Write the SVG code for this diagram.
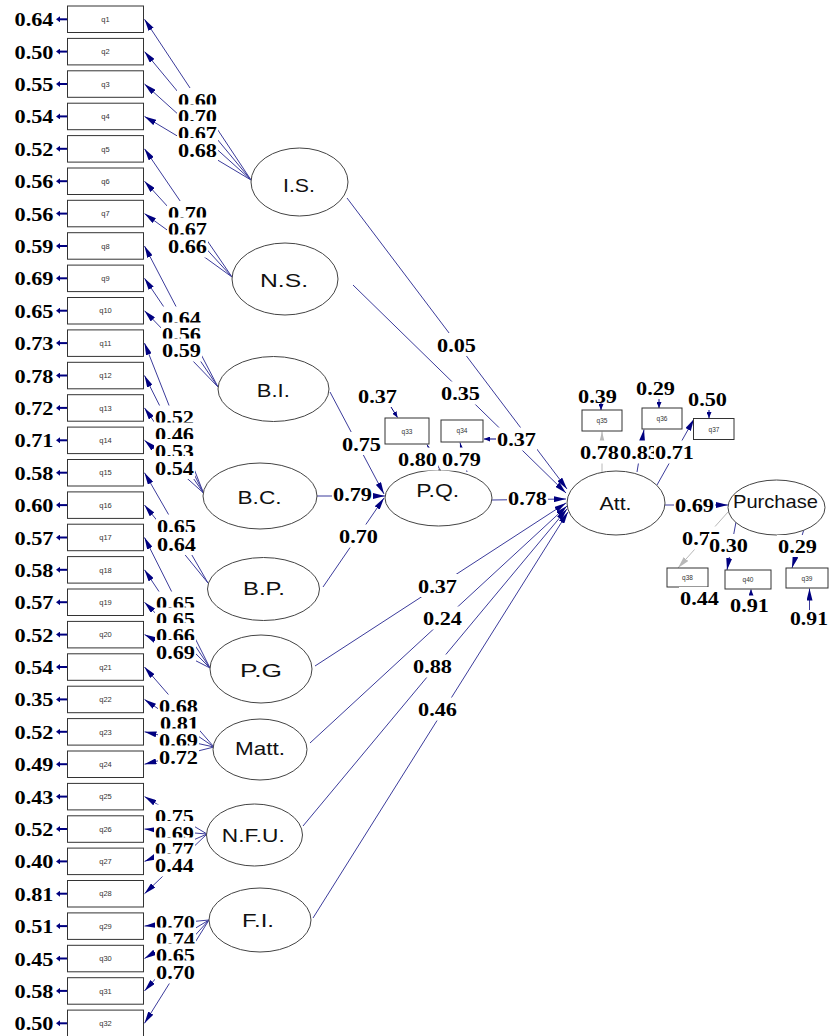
<svg xmlns="http://www.w3.org/2000/svg" width="829" height="1036" viewBox="0 0 829 1036">
<style>
.box{fill:#fff;stroke:#333;stroke-width:1}
.ell{fill:#fff;stroke:#444;stroke-width:1}
.ql{font-family:"Liberation Sans",Arial,sans-serif;font-size:7.5px;fill:#333;text-anchor:middle}
.qs{font-family:"Liberation Sans",Arial,sans-serif;font-size:6.5px;fill:#333;text-anchor:middle}
.lat{font-family:"Liberation Sans",Arial,sans-serif;font-size:19px;fill:#111;text-anchor:middle}
.num{font-family:"Liberation Serif","Times New Roman",serif;font-weight:bold;font-size:19.5px;fill:#000}
.end{text-anchor:end}
.bg{fill:#fff}
.c{stroke:#3b3b9b;stroke-width:1;fill:none;marker-end:url(#ah)}
.g{stroke:#b8b8b8;stroke-width:1;fill:none;marker-end:url(#ahg)}
.e{stroke:#000080;stroke-width:2;fill:none;marker-end:url(#ahs)}
.t{stroke:#000080;stroke-width:1;fill:none;marker-end:url(#aht)}
</style>
<defs>
<marker id="ah" viewBox="0 0 12 6" refX="12" refY="3" markerWidth="12" markerHeight="6" markerUnits="userSpaceOnUse" orient="auto"><path d="M0,0L12,3L0,6z" fill="#000080"/></marker>
<marker id="ahg" viewBox="0 0 12 6" refX="12" refY="3" markerWidth="12" markerHeight="6" markerUnits="userSpaceOnUse" orient="auto"><path d="M0,0L12,3L0,6z" fill="#b8b8b8"/></marker>
<marker id="ahs" viewBox="0 0 4 6" refX="1" refY="3" markerWidth="4" markerHeight="6" markerUnits="userSpaceOnUse" orient="auto"><path d="M0,0L4,3L0,6z" fill="#000080"/></marker>
<marker id="aht" viewBox="0 0 6 5" refX="6" refY="2.5" markerWidth="6" markerHeight="5" markerUnits="userSpaceOnUse" orient="auto"><path d="M0,0L6,2.5L0,5z" fill="#000080"/></marker>
</defs>
<rect width="829" height="1036" fill="#fff"/>

<g id="connectors">
<!-- error arrows left -->
<path class="e" d="M67,19.3H59"/>
<path class="e" d="M67,51.6H59"/>
<path class="e" d="M67,84H59"/>
<path class="e" d="M67,116.4H59"/>
<path class="e" d="M67,148.8H59"/>
<path class="e" d="M67,181.2H59"/>
<path class="e" d="M67,213.6H59"/>
<path class="e" d="M67,246H59"/>
<path class="e" d="M67,278.3H59"/>
<path class="e" d="M67,310.7H59"/>
<path class="e" d="M67,343.1H59"/>
<path class="e" d="M67,375.5H59"/>
<path class="e" d="M67,407.9H59"/>
<path class="e" d="M67,440.3H59"/>
<path class="e" d="M67,472.7H59"/>
<path class="e" d="M67,505.1H59"/>
<path class="e" d="M67,537.5H59"/>
<path class="e" d="M67,569.8H59"/>
<path class="e" d="M67,602.2H59"/>
<path class="e" d="M67,634.6H59"/>
<path class="e" d="M67,667H59"/>
<path class="e" d="M67,699.4H59"/>
<path class="e" d="M67,731.8H59"/>
<path class="e" d="M67,764.2H59"/>
<path class="e" d="M67,796.6H59"/>
<path class="e" d="M67,829H59"/>
<path class="e" d="M67,861.4H59"/>
<path class="e" d="M67,893.7H59"/>
<path class="e" d="M67,926.1H59"/>
<path class="e" d="M67,958.5H59"/>
<path class="e" d="M67,990.9H59"/>
<path class="e" d="M67,1023.3H59"/>
<!-- loadings -->
<path class="c" d="M251,180L144.5,19.3"/>
<path class="c" d="M251,180L144.5,51.6"/>
<path class="c" d="M251,180L144.5,84"/>
<path class="c" d="M251,180L144.5,116.4"/>
<path class="c" d="M232,277L144.5,148.8"/>
<path class="c" d="M232,277L144.5,181.2"/>
<path class="c" d="M232,277L144.5,213.6"/>
<path class="c" d="M218,387L144.5,246"/>
<path class="c" d="M218,387L144.5,278.3"/>
<path class="c" d="M218,387L144.5,310.7"/>
<path class="c" d="M203.5,493L144.5,343.1"/>
<path class="c" d="M203.5,493L144.5,375.5"/>
<path class="c" d="M203.5,493L144.5,407.9"/>
<path class="c" d="M203.5,493L144.5,440.3"/>
<path class="c" d="M208,583L144.5,472.7"/>
<path class="c" d="M208,583L144.5,505.1"/>
<path class="c" d="M210,668L144.5,537.5"/>
<path class="c" d="M210,668L144.5,569.8"/>
<path class="c" d="M210,668L144.5,602.2"/>
<path class="c" d="M210,668L144.5,634.6"/>
<path class="c" d="M214,747L144.5,667"/>
<path class="c" d="M214,747L144.5,699.4"/>
<path class="c" d="M214,747L144.5,731.8"/>
<path class="c" d="M214,747L144.5,764.2"/>
<path class="c" d="M207,834L144.5,796.6"/>
<path class="c" d="M207,834L144.5,829"/>
<path class="c" d="M207,834L144.5,861.4"/>
<path class="c" d="M207,834L144.5,893.7"/>
<path class="c" d="M209,920L144.5,926.1"/>
<path class="c" d="M209,920L144.5,958.5"/>
<path class="c" d="M209,920L144.5,990.9"/>
<path class="c" d="M209,920L144.5,1023.3"/>
<!-- structural -->
<path class="c" d="M347,198L567,489"/>
<path class="c" d="M353,285L566,493"/>
<path class="c" d="M330,392L384,494"/>
<path class="c" d="M317,496L385,496"/>
<path class="c" d="M323,587L384,498"/>
<path class="c" d="M492,500L566,499"/>
<path class="c" d="M315,666L566,503"/>
<path class="c" d="M310,743L567,506"/>
<path class="c" d="M303,826L567,509"/>
<path class="c" d="M313,918L568,512"/>
<!-- P.Q. indicators -->
<path class="c" d="M440,470L427,444.5"/>
<path class="c" d="M467,472L460,442.5"/>
<path class="t" d="M391,407L397.5,417.5"/>
<path class="t" d="M496,439H484"/>
<!-- Att indicators -->
<path class="g" d="M602,472L602,431.5"/>
<path class="c" d="M637,472L644,429.5"/>
<path class="c" d="M657,485L694,419"/>
<path class="t" d="M601,403V410"/>
<path class="t" d="M659,399V408"/>
<path class="t" d="M709,410V418"/>
<!-- Att -> Purchase -->
<path class="c" d="M665,505L728,505"/>
<!-- Purchase indicators -->
<path class="g" d="M728,512L678,568"/>
<path class="c" d="M736,522L727,570"/>
<path class="c" d="M805,526L792,568"/>
<path class="t" d="M751,595V589.5"/>
<path class="c" d="M809.5,610V588.5"/>
</g>

<g id="nodes">
<g id="q1"><rect class="box" x="67.5" y="6" width="76" height="26.5"/><text class="ql" x="105.5" y="22">q1</text></g>
<g id="q2"><rect class="box" x="67.5" y="38.4" width="76" height="26.5"/><text class="ql" x="105.5" y="54.3">q2</text></g>
<g id="q3"><rect class="box" x="67.5" y="70.8" width="76" height="26.5"/><text class="ql" x="105.5" y="86.7">q3</text></g>
<g id="q4"><rect class="box" x="67.5" y="103.2" width="76" height="26.5"/><text class="ql" x="105.5" y="119.1">q4</text></g>
<g id="q5"><rect class="box" x="67.5" y="135.6" width="76" height="26.5"/><text class="ql" x="105.5" y="151.5">q5</text></g>
<g id="q6"><rect class="box" x="67.5" y="168" width="76" height="26.5"/><text class="ql" x="105.5" y="183.9">q6</text></g>
<g id="q7"><rect class="box" x="67.5" y="200.3" width="76" height="26.5"/><text class="ql" x="105.5" y="216.3">q7</text></g>
<g id="q8"><rect class="box" x="67.5" y="232.7" width="76" height="26.5"/><text class="ql" x="105.5" y="248.7">q8</text></g>
<g id="q9"><rect class="box" x="67.5" y="265.1" width="76" height="26.5"/><text class="ql" x="105.5" y="281">q9</text></g>
<g id="q10"><rect class="box" x="67.5" y="297.5" width="76" height="26.5"/><text class="ql" x="105.5" y="313.4">q10</text></g>
<g id="q11"><rect class="box" x="67.5" y="329.9" width="76" height="26.5"/><text class="ql" x="105.5" y="345.8">q11</text></g>
<g id="q12"><rect class="box" x="67.5" y="362.3" width="76" height="26.5"/><text class="ql" x="105.5" y="378.2">q12</text></g>
<g id="q13"><rect class="box" x="67.5" y="394.7" width="76" height="26.5"/><text class="ql" x="105.5" y="410.6">q13</text></g>
<g id="q14"><rect class="box" x="67.5" y="427.1" width="76" height="26.5"/><text class="ql" x="105.5" y="443">q14</text></g>
<g id="q15"><rect class="box" x="67.5" y="459.5" width="76" height="26.5"/><text class="ql" x="105.5" y="475.4">q15</text></g>
<g id="q16"><rect class="box" x="67.5" y="491.9" width="76" height="26.5"/><text class="ql" x="105.5" y="507.8">q16</text></g>
<g id="q17"><rect class="box" x="67.5" y="524.2" width="76" height="26.5"/><text class="ql" x="105.5" y="540.2">q17</text></g>
<g id="q18"><rect class="box" x="67.5" y="556.6" width="76" height="26.5"/><text class="ql" x="105.5" y="572.5">q18</text></g>
<g id="q19"><rect class="box" x="67.5" y="589" width="76" height="26.5"/><text class="ql" x="105.5" y="604.9">q19</text></g>
<g id="q20"><rect class="box" x="67.5" y="621.4" width="76" height="26.5"/><text class="ql" x="105.5" y="637.3">q20</text></g>
<g id="q21"><rect class="box" x="67.5" y="653.8" width="76" height="26.5"/><text class="ql" x="105.5" y="669.7">q21</text></g>
<g id="q22"><rect class="box" x="67.5" y="686.2" width="76" height="26.5"/><text class="ql" x="105.5" y="702.1">q22</text></g>
<g id="q23"><rect class="box" x="67.5" y="718.6" width="76" height="26.5"/><text class="ql" x="105.5" y="734.5">q23</text></g>
<g id="q24"><rect class="box" x="67.5" y="751" width="76" height="26.5"/><text class="ql" x="105.5" y="766.9">q24</text></g>
<g id="q25"><rect class="box" x="67.5" y="783.4" width="76" height="26.5"/><text class="ql" x="105.5" y="799.3">q25</text></g>
<g id="q26"><rect class="box" x="67.5" y="815.8" width="76" height="26.5"/><text class="ql" x="105.5" y="831.7">q26</text></g>
<g id="q27"><rect class="box" x="67.5" y="848.1" width="76" height="26.5"/><text class="ql" x="105.5" y="864.1">q27</text></g>
<g id="q28"><rect class="box" x="67.5" y="880.5" width="76" height="26.5"/><text class="ql" x="105.5" y="896.4">q28</text></g>
<g id="q29"><rect class="box" x="67.5" y="912.9" width="76" height="26.5"/><text class="ql" x="105.5" y="928.8">q29</text></g>
<g id="q30"><rect class="box" x="67.5" y="945.3" width="76" height="26.5"/><text class="ql" x="105.5" y="961.2">q30</text></g>
<g id="q31"><rect class="box" x="67.5" y="977.7" width="76" height="26.5"/><text class="ql" x="105.5" y="993.6">q31</text></g>
<g id="q32"><rect class="box" x="67.5" y="1010.1" width="76" height="26.5"/><text class="ql" x="105.5" y="1026">q32</text></g>

<g id="q33"><rect class="box" x="385" y="418" width="44" height="26"/><text class="qs" x="407" y="433.5">q33</text></g>
<g id="q34"><rect class="box" x="441" y="420" width="42" height="22"/><text class="qs" x="462" y="433">q34</text></g>
<g id="q35"><rect class="box" x="582" y="410" width="40" height="21"/><text class="qs" x="602" y="422.5">q35</text></g>
<g id="q36"><rect class="box" x="642" y="408" width="40" height="21"/><text class="qs" x="662" y="420.5">q36</text></g>
<g id="q37"><rect class="box" x="693.5" y="418.5" width="40.5" height="21"/><text class="qs" x="714" y="431.5">q37</text></g>
<g id="q38"><rect class="box" x="667" y="568" width="41" height="19"/><text class="qs" x="687.5" y="580">q38</text></g>
<g id="q40"><rect class="box" x="725" y="570" width="46" height="19"/><text class="qs" x="748" y="582">q40</text></g>
<g id="q39"><rect class="box" x="786" y="568" width="42" height="20"/><text class="qs" x="807" y="581">q39</text></g>

<g id="IS"><ellipse class="ell" cx="299.5" cy="182" rx="48.5" ry="34"/><text class="lat" x="299" y="191.5" textLength="32" lengthAdjust="spacingAndGlyphs">I.S.</text></g>
<g id="NS"><ellipse class="ell" cx="285" cy="279" rx="53" ry="36"/><text class="lat" x="284" y="286.5" textLength="48" lengthAdjust="spacingAndGlyphs">N.S.</text></g>
<g id="BI"><ellipse class="ell" cx="273.5" cy="389" rx="55.5" ry="32.5"/><text class="lat" x="273.3" y="396.5" textLength="33" lengthAdjust="spacingAndGlyphs">B.I.</text></g>
<g id="BC"><ellipse class="ell" cx="260" cy="496" rx="57" ry="33"/><text class="lat" x="259.5" y="504" textLength="44" lengthAdjust="spacingAndGlyphs">B.C.</text></g>
<g id="BP"><ellipse class="ell" cx="263.5" cy="589" rx="56" ry="31.5"/><text class="lat" x="264" y="595" textLength="42" lengthAdjust="spacingAndGlyphs">B.P.</text></g>
<g id="PG"><ellipse class="ell" cx="261" cy="669" rx="51" ry="34"/><text class="lat" x="261" y="676.5" textLength="42" lengthAdjust="spacingAndGlyphs">P.G</text></g>
<g id="Matt"><ellipse class="ell" cx="260" cy="749.5" rx="47" ry="30.5"/><text class="lat" x="260" y="755" textLength="50" lengthAdjust="spacingAndGlyphs">Matt.</text></g>
<g id="NFU"><ellipse class="ell" cx="254.5" cy="835" rx="48" ry="31"/><text class="lat" x="253.3" y="841.5" textLength="63" lengthAdjust="spacingAndGlyphs">N.F.U.</text></g>
<g id="FI"><ellipse class="ell" cx="260" cy="920" rx="51" ry="32"/><text class="lat" x="258" y="927.3" textLength="32" lengthAdjust="spacingAndGlyphs">F.I.</text></g>
<g id="PQ"><ellipse class="ell" cx="438.5" cy="498" rx="53.5" ry="28"/><text class="lat" x="437.7" y="496.5" textLength="43" lengthAdjust="spacingAndGlyphs">P.Q.</text></g>
<g id="Att"><ellipse class="ell" cx="616" cy="503" rx="49" ry="32"/><text class="lat" x="615.5" y="510" textLength="32" lengthAdjust="spacingAndGlyphs">Att.</text></g>
<g id="Purchase"><ellipse class="ell" cx="776.5" cy="507.5" rx="48.5" ry="27.5"/><text class="lat" x="775.5" y="508.3" textLength="85" lengthAdjust="spacingAndGlyphs">Purchase</text></g>
</g>

<g id="labels">
<g class="num end">
<text x="53.5" y="26.3" textLength="39" lengthAdjust="spacingAndGlyphs">0.64</text>
<text x="53.5" y="58.6" textLength="39" lengthAdjust="spacingAndGlyphs">0.50</text>
<text x="53.5" y="91" textLength="39" lengthAdjust="spacingAndGlyphs">0.55</text>
<text x="53.5" y="123.4" textLength="39" lengthAdjust="spacingAndGlyphs">0.54</text>
<text x="53.5" y="155.8" textLength="39" lengthAdjust="spacingAndGlyphs">0.52</text>
<text x="53.5" y="188.2" textLength="39" lengthAdjust="spacingAndGlyphs">0.56</text>
<text x="53.5" y="220.6" textLength="39" lengthAdjust="spacingAndGlyphs">0.56</text>
<text x="53.5" y="253" textLength="39" lengthAdjust="spacingAndGlyphs">0.59</text>
<text x="53.5" y="285.3" textLength="39" lengthAdjust="spacingAndGlyphs">0.69</text>
<text x="53.5" y="317.7" textLength="39" lengthAdjust="spacingAndGlyphs">0.65</text>
<text x="53.5" y="350.1" textLength="39" lengthAdjust="spacingAndGlyphs">0.73</text>
<text x="53.5" y="382.5" textLength="39" lengthAdjust="spacingAndGlyphs">0.78</text>
<text x="53.5" y="414.9" textLength="39" lengthAdjust="spacingAndGlyphs">0.72</text>
<text x="53.5" y="447.3" textLength="39" lengthAdjust="spacingAndGlyphs">0.71</text>
<text x="53.5" y="479.7" textLength="39" lengthAdjust="spacingAndGlyphs">0.58</text>
<text x="53.5" y="512.1" textLength="39" lengthAdjust="spacingAndGlyphs">0.60</text>
<text x="53.5" y="544.5" textLength="39" lengthAdjust="spacingAndGlyphs">0.57</text>
<text x="53.5" y="576.8" textLength="39" lengthAdjust="spacingAndGlyphs">0.58</text>
<text x="53.5" y="609.2" textLength="39" lengthAdjust="spacingAndGlyphs">0.57</text>
<text x="53.5" y="641.6" textLength="39" lengthAdjust="spacingAndGlyphs">0.52</text>
<text x="53.5" y="674" textLength="39" lengthAdjust="spacingAndGlyphs">0.54</text>
<text x="53.5" y="706.4" textLength="39" lengthAdjust="spacingAndGlyphs">0.35</text>
<text x="53.5" y="738.8" textLength="39" lengthAdjust="spacingAndGlyphs">0.52</text>
<text x="53.5" y="771.2" textLength="39" lengthAdjust="spacingAndGlyphs">0.49</text>
<text x="53.5" y="803.6" textLength="39" lengthAdjust="spacingAndGlyphs">0.43</text>
<text x="53.5" y="836" textLength="39" lengthAdjust="spacingAndGlyphs">0.52</text>
<text x="53.5" y="868.4" textLength="39" lengthAdjust="spacingAndGlyphs">0.40</text>
<text x="53.5" y="900.7" textLength="39" lengthAdjust="spacingAndGlyphs">0.81</text>
<text x="53.5" y="933.1" textLength="39" lengthAdjust="spacingAndGlyphs">0.51</text>
<text x="53.5" y="965.5" textLength="39" lengthAdjust="spacingAndGlyphs">0.45</text>
<text x="53.5" y="997.9" textLength="39" lengthAdjust="spacingAndGlyphs">0.58</text>
<text x="53.5" y="1030.3" textLength="39" lengthAdjust="spacingAndGlyphs">0.50</text>
</g>
<g class="num">
<!-- I.S. -->
<rect class="bg" x="177" y="88" width="41" height="23"/><text x="178" y="106.5" textLength="39" lengthAdjust="spacingAndGlyphs">0.60</text>
<rect class="bg" x="177" y="104.5" width="41" height="23"/><text x="178" y="123" textLength="39" lengthAdjust="spacingAndGlyphs">0.70</text>
<rect class="bg" x="177" y="121" width="41" height="23"/><text x="178" y="139.5" textLength="39" lengthAdjust="spacingAndGlyphs">0.67</text>
<rect class="bg" x="177" y="138" width="41" height="23"/><text x="178" y="156.5" textLength="39" lengthAdjust="spacingAndGlyphs">0.68</text>
<!-- N.S. -->
<rect class="bg" x="167" y="201" width="41" height="23"/><text x="168" y="219.5" textLength="39" lengthAdjust="spacingAndGlyphs">0.70</text>
<rect class="bg" x="167" y="217.5" width="41" height="23"/><text x="168" y="236" textLength="39" lengthAdjust="spacingAndGlyphs">0.67</text>
<rect class="bg" x="167" y="234.5" width="41" height="23"/><text x="168" y="253" textLength="39" lengthAdjust="spacingAndGlyphs">0.66</text>
<!-- B.I. -->
<rect class="bg" x="161" y="306.5" width="41" height="23"/><text x="162" y="325" textLength="39" lengthAdjust="spacingAndGlyphs">0.64</text>
<rect class="bg" x="161" y="322.5" width="41" height="23"/><text x="162" y="341" textLength="39" lengthAdjust="spacingAndGlyphs">0.56</text>
<rect class="bg" x="161" y="338.5" width="41" height="23"/><text x="162" y="357" textLength="39" lengthAdjust="spacingAndGlyphs">0.59</text>
<!-- B.C. -->
<rect class="bg" x="154" y="405.5" width="41" height="23"/><text x="155" y="424" textLength="39" lengthAdjust="spacingAndGlyphs">0.52</text>
<rect class="bg" x="154" y="422.5" width="41" height="23"/><text x="155" y="441" textLength="39" lengthAdjust="spacingAndGlyphs">0.46</text>
<rect class="bg" x="154" y="439" width="41" height="23"/><text x="155" y="457.5" textLength="39" lengthAdjust="spacingAndGlyphs">0.53</text>
<rect class="bg" x="154" y="456" width="41" height="23"/><text x="155" y="474.5" textLength="39" lengthAdjust="spacingAndGlyphs">0.54</text>
<!-- B.P. -->
<rect class="bg" x="156" y="514.5" width="41" height="23"/><text x="157" y="533" textLength="39" lengthAdjust="spacingAndGlyphs">0.65</text>
<rect class="bg" x="156" y="532" width="41" height="23"/><text x="157" y="550.5" textLength="39" lengthAdjust="spacingAndGlyphs">0.64</text>
<!-- P.G -->
<rect class="bg" x="155" y="591.5" width="41" height="23"/><text x="156" y="610" textLength="39" lengthAdjust="spacingAndGlyphs">0.65</text>
<rect class="bg" x="155" y="607.5" width="41" height="23"/><text x="156" y="626" textLength="39" lengthAdjust="spacingAndGlyphs">0.65</text>
<rect class="bg" x="155" y="623" width="41" height="23"/><text x="156" y="641.5" textLength="39" lengthAdjust="spacingAndGlyphs">0.66</text>
<rect class="bg" x="155" y="640" width="41" height="23"/><text x="156" y="658.5" textLength="39" lengthAdjust="spacingAndGlyphs">0.69</text>
<!-- Matt. -->
<rect class="bg" x="158" y="694.5" width="41" height="23"/><text x="159" y="713" textLength="39" lengthAdjust="spacingAndGlyphs">0.68</text>
<rect class="bg" x="159" y="711.5" width="41" height="23"/><text x="160" y="730" textLength="39" lengthAdjust="spacingAndGlyphs">0.81</text>
<rect class="bg" x="158" y="728.5" width="41" height="23"/><text x="159" y="747" textLength="39" lengthAdjust="spacingAndGlyphs">0.69</text>
<rect class="bg" x="158" y="745.5" width="41" height="23"/><text x="159" y="764" textLength="39" lengthAdjust="spacingAndGlyphs">0.72</text>
<!-- N.F.U. -->
<rect class="bg" x="154" y="804.5" width="41" height="23"/><text x="155" y="823" textLength="39" lengthAdjust="spacingAndGlyphs">0.75</text>
<rect class="bg" x="154" y="821" width="41" height="23"/><text x="155" y="839.5" textLength="39" lengthAdjust="spacingAndGlyphs">0.69</text>
<rect class="bg" x="154" y="837.5" width="41" height="23"/><text x="155" y="856" textLength="39" lengthAdjust="spacingAndGlyphs">0.77</text>
<rect class="bg" x="154" y="853.5" width="41" height="23"/><text x="155" y="872" textLength="39" lengthAdjust="spacingAndGlyphs">0.44</text>
<!-- F.I. -->
<rect class="bg" x="155" y="910.5" width="41" height="23"/><text x="156" y="929" textLength="39" lengthAdjust="spacingAndGlyphs">0.70</text>
<rect class="bg" x="155" y="927.5" width="41" height="23"/><text x="156" y="946" textLength="39" lengthAdjust="spacingAndGlyphs">0.74</text>
<rect class="bg" x="155" y="943.5" width="41" height="23"/><text x="156" y="962" textLength="39" lengthAdjust="spacingAndGlyphs">0.65</text>
<rect class="bg" x="155" y="960.5" width="41" height="23"/><text x="156" y="979" textLength="39" lengthAdjust="spacingAndGlyphs">0.70</text>
<!-- structural -->
<rect class="bg" x="436" y="333" width="41" height="23"/><text x="437" y="351.5" textLength="39" lengthAdjust="spacingAndGlyphs">0.05</text>
<rect class="bg" x="440" y="381.5" width="41" height="23"/><text x="441" y="400" textLength="39" lengthAdjust="spacingAndGlyphs">0.35</text>
<rect class="bg" x="341" y="432" width="41" height="23"/><text x="342" y="450.5" textLength="39" lengthAdjust="spacingAndGlyphs">0.75</text>
<rect class="bg" x="332" y="482" width="41" height="23"/><text x="333" y="500.5" textLength="39" lengthAdjust="spacingAndGlyphs">0.79</text>
<rect class="bg" x="338" y="524.5" width="41" height="23"/><text x="339" y="543" textLength="39" lengthAdjust="spacingAndGlyphs">0.70</text>
<text x="358" y="403" textLength="39" lengthAdjust="spacingAndGlyphs">0.37</text>
<rect class="bg" x="397" y="447.5" width="41" height="23"/><text x="398" y="466" textLength="39" lengthAdjust="spacingAndGlyphs">0.80</text>
<rect class="bg" x="441" y="447.5" width="41" height="23"/><text x="442" y="466" textLength="39" lengthAdjust="spacingAndGlyphs">0.79</text>
<rect class="bg" x="496" y="427.5" width="41" height="23"/><text x="497" y="446" textLength="39" lengthAdjust="spacingAndGlyphs">0.37</text>
<rect class="bg" x="507" y="486.5" width="41" height="23"/><text x="508" y="505" textLength="39" lengthAdjust="spacingAndGlyphs">0.78</text>
<rect class="bg" x="417" y="574" width="41" height="23"/><text x="418" y="592.5" textLength="39" lengthAdjust="spacingAndGlyphs">0.37</text>
<rect class="bg" x="422" y="606.5" width="41" height="23"/><text x="423" y="625" textLength="39" lengthAdjust="spacingAndGlyphs">0.24</text>
<rect class="bg" x="412" y="654.5" width="41" height="23"/><text x="413" y="673" textLength="39" lengthAdjust="spacingAndGlyphs">0.88</text>
<rect class="bg" x="417" y="697.5" width="41" height="23"/><text x="418" y="716" textLength="39" lengthAdjust="spacingAndGlyphs">0.46</text>
<text x="578" y="402.5" textLength="39" lengthAdjust="spacingAndGlyphs">0.39</text>
<text x="636" y="395" textLength="39" lengthAdjust="spacingAndGlyphs">0.29</text>
<text x="688" y="406" textLength="39" lengthAdjust="spacingAndGlyphs">0.50</text>
<rect class="bg" x="579" y="440.5" width="41" height="23"/><text x="580" y="459" textLength="39" lengthAdjust="spacingAndGlyphs">0.78</text>
<rect class="bg" x="619" y="440.5" width="41" height="23"/><text x="620" y="459" textLength="39" lengthAdjust="spacingAndGlyphs">0.83</text>
<rect class="bg" x="654" y="440.5" width="41" height="23"/><text x="655" y="459" textLength="39" lengthAdjust="spacingAndGlyphs">0.71</text>
<rect class="bg" x="674" y="493" width="41" height="23"/><text x="675" y="511.5" textLength="39" lengthAdjust="spacingAndGlyphs">0.69</text>
<rect class="bg" x="681" y="526.5" width="41" height="23"/><text x="682" y="545" textLength="39" lengthAdjust="spacingAndGlyphs">0.75</text>
<rect class="bg" x="708" y="534" width="41" height="23"/><text x="709" y="551.5" textLength="39" lengthAdjust="spacingAndGlyphs">0.30</text>
<rect class="bg" x="777" y="535" width="41" height="22"/><text x="778" y="552.5" textLength="39" lengthAdjust="spacingAndGlyphs">0.29</text>
<rect class="bg" x="679" y="587" width="41" height="22"/><text x="680" y="605" textLength="39" lengthAdjust="spacingAndGlyphs">0.44</text>
<text x="730" y="611.5" textLength="39" lengthAdjust="spacingAndGlyphs">0.91</text>
<text x="790" y="625" textLength="38" lengthAdjust="spacingAndGlyphs">0.91</text>
</g>
</g>
</svg>
